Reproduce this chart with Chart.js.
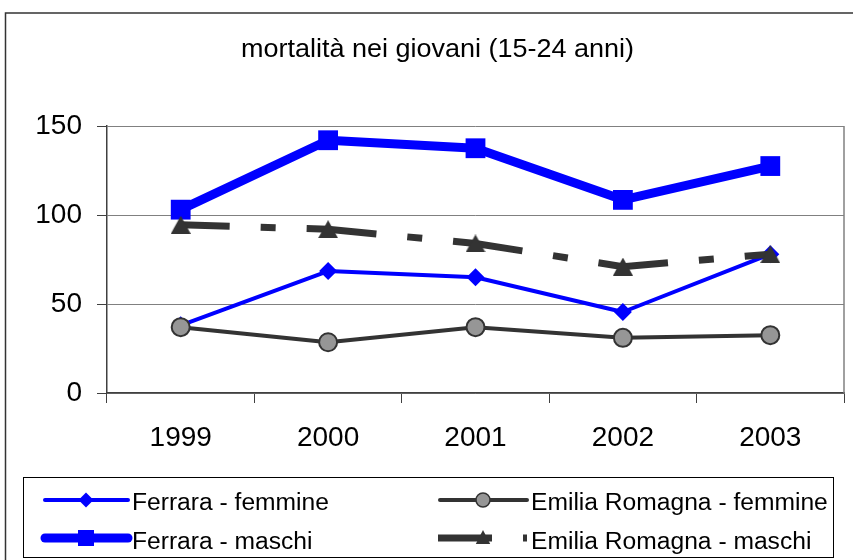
<!DOCTYPE html>
<html><head><meta charset="utf-8">
<script src="https://cdn.jsdelivr.net/npm/chart.js@4/dist/chart.umd.min.js"></script>
<style>html,body{margin:0;padding:0;background:#fff;overflow:hidden}#wrap{width:853px;height:560px;position:relative}</style>
</head><body><div id="wrap"><canvas id="c" width="853" height="560"></canvas></div>
<script>
const categories = ['1999', '2000', '2001', '2002', '2003'];
const ferraraFemmine = [38, 68.5, 65, 45.5, 78];
const emiliaFemmine = [37, 28.5, 37, 31, 32.5];
const ferraraMaschi = [103, 142, 137.5, 108.5, 127.5];
const emiliaMaschi = [94.5, 92, 84, 71, 78];
const seriesNames = ['Ferrara - femmine', 'Emilia Romagna - femmine', 'Ferrara - maschi', 'Emilia Romagna - maschi'];
const yMin = 0, yMax = 150, yStep = 50;
const titleText = 'mortalità nei giovani (15-24 anni)';

const FONT = '"Liberation Sans", Arial, sans-serif';
const BLUE = '#0000ff', DARK = '#333333', GREY = '#969696';

function makeTriangle(w, h, color) {
  const c = document.createElement('canvas');
  c.width = w; c.height = h;
  const g = c.getContext('2d');
  g.fillStyle = color;
  g.beginPath(); g.moveTo(w / 2, 0); g.lineTo(w, h); g.lineTo(0, h); g.closePath(); g.fill();
  return c;
}
const triMarker = makeTriangle(20, 18, DARK);

function drawMarker(ctx, style, x, y, r, fill, stroke, bw) {
  ctx.save();
  ctx.setLineDash([]);
  ctx.beginPath();
  if (style === 'rectRot') {
    ctx.moveTo(x - r, y); ctx.lineTo(x, y - r); ctx.lineTo(x + r, y); ctx.lineTo(x, y + r); ctx.closePath();
  } else if (style === 'rect') {
    ctx.rect(x - r, y - r, 2 * r, 2 * r);
  } else if (style === 'circle') {
    ctx.arc(x, y, r, 0, Math.PI * 2);
  } else {
    ctx.moveTo(x, y - r); ctx.lineTo(x + r * 0.9, y + r * 0.75); ctx.lineTo(x - r * 0.9, y + r * 0.75); ctx.closePath();
  }
  ctx.fillStyle = fill; ctx.fill();
  if (bw) { ctx.lineWidth = bw; ctx.strokeStyle = stroke; ctx.stroke(); }
  ctx.restore();
}

const legendLayout = {
  lineX0: [45, 440], lineX1: [128, 527], markX: [86, 483], textX: [132, 531],
  lineY: [500, 538], textY: [510, 549],
  markR: [7.5, 7, 8, 8]
};

const framePlugin = {
  id: 'frame',
  afterDraw(chart) {
    const ctx = chart.ctx, a = chart.chartArea;
    ctx.save();
    ctx.strokeStyle = DARK; ctx.lineWidth = 1.5;
    ctx.beginPath(); ctx.moveTo(5.5, 560); ctx.lineTo(5.5, 13); ctx.lineTo(853, 13); ctx.stroke();
    ctx.strokeStyle = '#808080'; ctx.lineWidth = 1.5;
    ctx.beginPath(); ctx.moveTo(a.right, a.top); ctx.lineTo(a.right, a.bottom); ctx.stroke();
    ctx.fillStyle = '#000'; ctx.font = '25px ' + FONT; ctx.textAlign = 'center'; ctx.textBaseline = 'alphabetic';
    ctx.save(); ctx.translate(437.5, 57); ctx.scale(1.08, 1); ctx.fillText(titleText, 0, 0); ctx.restore();
    ctx.strokeStyle = '#000'; ctx.lineWidth = 1;
    ctx.strokeRect(23.5, 477.5, 810, 80);
    chart.data.datasets.forEach((ds, i) => {
      const col = i % 2, row = Math.floor(i / 2);
      const L = legendLayout;
      ctx.save();
      ctx.strokeStyle = ds.borderColor; ctx.lineWidth = ds.borderWidth;
      if (ds.borderDash) {
        ctx.setLineDash(ds.borderDash); ctx.lineDashOffset = 16; ctx.lineCap = 'butt';
        ctx.beginPath(); ctx.moveTo(L.lineX0[col] - 2, L.lineY[row]); ctx.lineTo(L.lineX1[col], L.lineY[row]); ctx.stroke();
      } else {
        ctx.lineCap = 'round';
        ctx.beginPath(); ctx.moveTo(L.lineX0[col], L.lineY[row]); ctx.lineTo(L.lineX1[col], L.lineY[row]); ctx.stroke();
      }
      ctx.restore();
      const st = typeof ds.pointStyle === 'string' ? ds.pointStyle : 'triangle';
      drawMarker(ctx, st, L.markX[col], L.lineY[row], L.markR[i], ds.pointBackgroundColor, ds.pointBorderColor, st === 'circle' ? 1.5 : 0);
      ctx.save();
      ctx.fillStyle = '#000'; ctx.font = '23px ' + FONT; ctx.textAlign = 'left'; ctx.textBaseline = 'alphabetic';
      ctx.translate(L.textX[col], L.textY[row]); ctx.scale(1.07, 1);
      ctx.fillText(ds.label, 0, 0);
      ctx.restore();
    });
    ctx.restore();
  }
};

new Chart(document.getElementById('c'), {
  type: 'line',
  data: {
    labels: categories,
    datasets: [
      { label: seriesNames[0], data: ferraraFemmine, borderColor: BLUE, borderWidth: 4,
        pointStyle: 'rectRot', pointRadius: 9, pointBackgroundColor: BLUE, pointBorderColor: BLUE, pointBorderWidth: 0,
        order: 4, borderJoinStyle: 'round', borderCapStyle: 'round' },
      { label: seriesNames[1], data: emiliaFemmine, borderColor: DARK, borderWidth: 4,
        pointStyle: 'circle', pointRadius: 9, pointBackgroundColor: GREY, pointBorderColor: DARK, pointBorderWidth: 2,
        order: 3, borderJoinStyle: 'round', borderCapStyle: 'round' },
      { label: seriesNames[2], data: ferraraMaschi, borderColor: BLUE, borderWidth: 9,
        pointStyle: 'rect', pointRadius: 14, pointBackgroundColor: BLUE, pointBorderColor: BLUE, pointBorderWidth: 0,
        order: 2, borderJoinStyle: 'round', borderCapStyle: 'round' },
      { label: seriesNames[3], data: emiliaMaschi, borderColor: DARK, borderWidth: 7,
        borderDash: [70, 31, 15, 31], borderDashOffset: 21, borderCapStyle: 'butt',
        pointStyle: triMarker, pointRadius: 11, pointBackgroundColor: DARK, pointBorderColor: DARK, pointBorderWidth: 0,
        order: 1 }
    ]
  },
  options: {
    responsive: false, animation: false, devicePixelRatio: 1,
    layout: { autoPadding: false, padding: { left: 0, top: 126, right: 9, bottom: 0 } },
    plugins: { legend: { display: false }, tooltip: { enabled: false }, title: { display: false } },
    elements: { line: { tension: 0, fill: false } },
    scales: {
      x: {
        type: 'category', offset: true,
        grid: { offset: true, drawOnChartArea: false, drawTicks: true, tickLength: 10, tickColor: '#404040', tickWidth: 1 },
        border: { color: '#404040', width: 1.5 },
        ticks: { font: { family: FONT, size: 28 }, color: '#000', padding: 18, maxRotation: 0, autoSkip: false },
        afterFit: s => { s.height = 167; s.paddingLeft = 0; s.paddingRight = 0; }
      },
      y: {
        min: yMin, max: yMax,
        ticks: { stepSize: yStep, font: { family: FONT, size: 28 }, color: '#000', padding: 15 },
        grid: { color: '#808080', lineWidth: 1, tickLength: 10, tickColor: '#404040' },
        border: { color: '#404040', width: 1.5 },
        afterFit: s => { s.width = 107; s.paddingTop = 0; s.paddingBottom = 0; }
      }
    }
  },
  plugins: [framePlugin]
});
</script>
</body></html>
